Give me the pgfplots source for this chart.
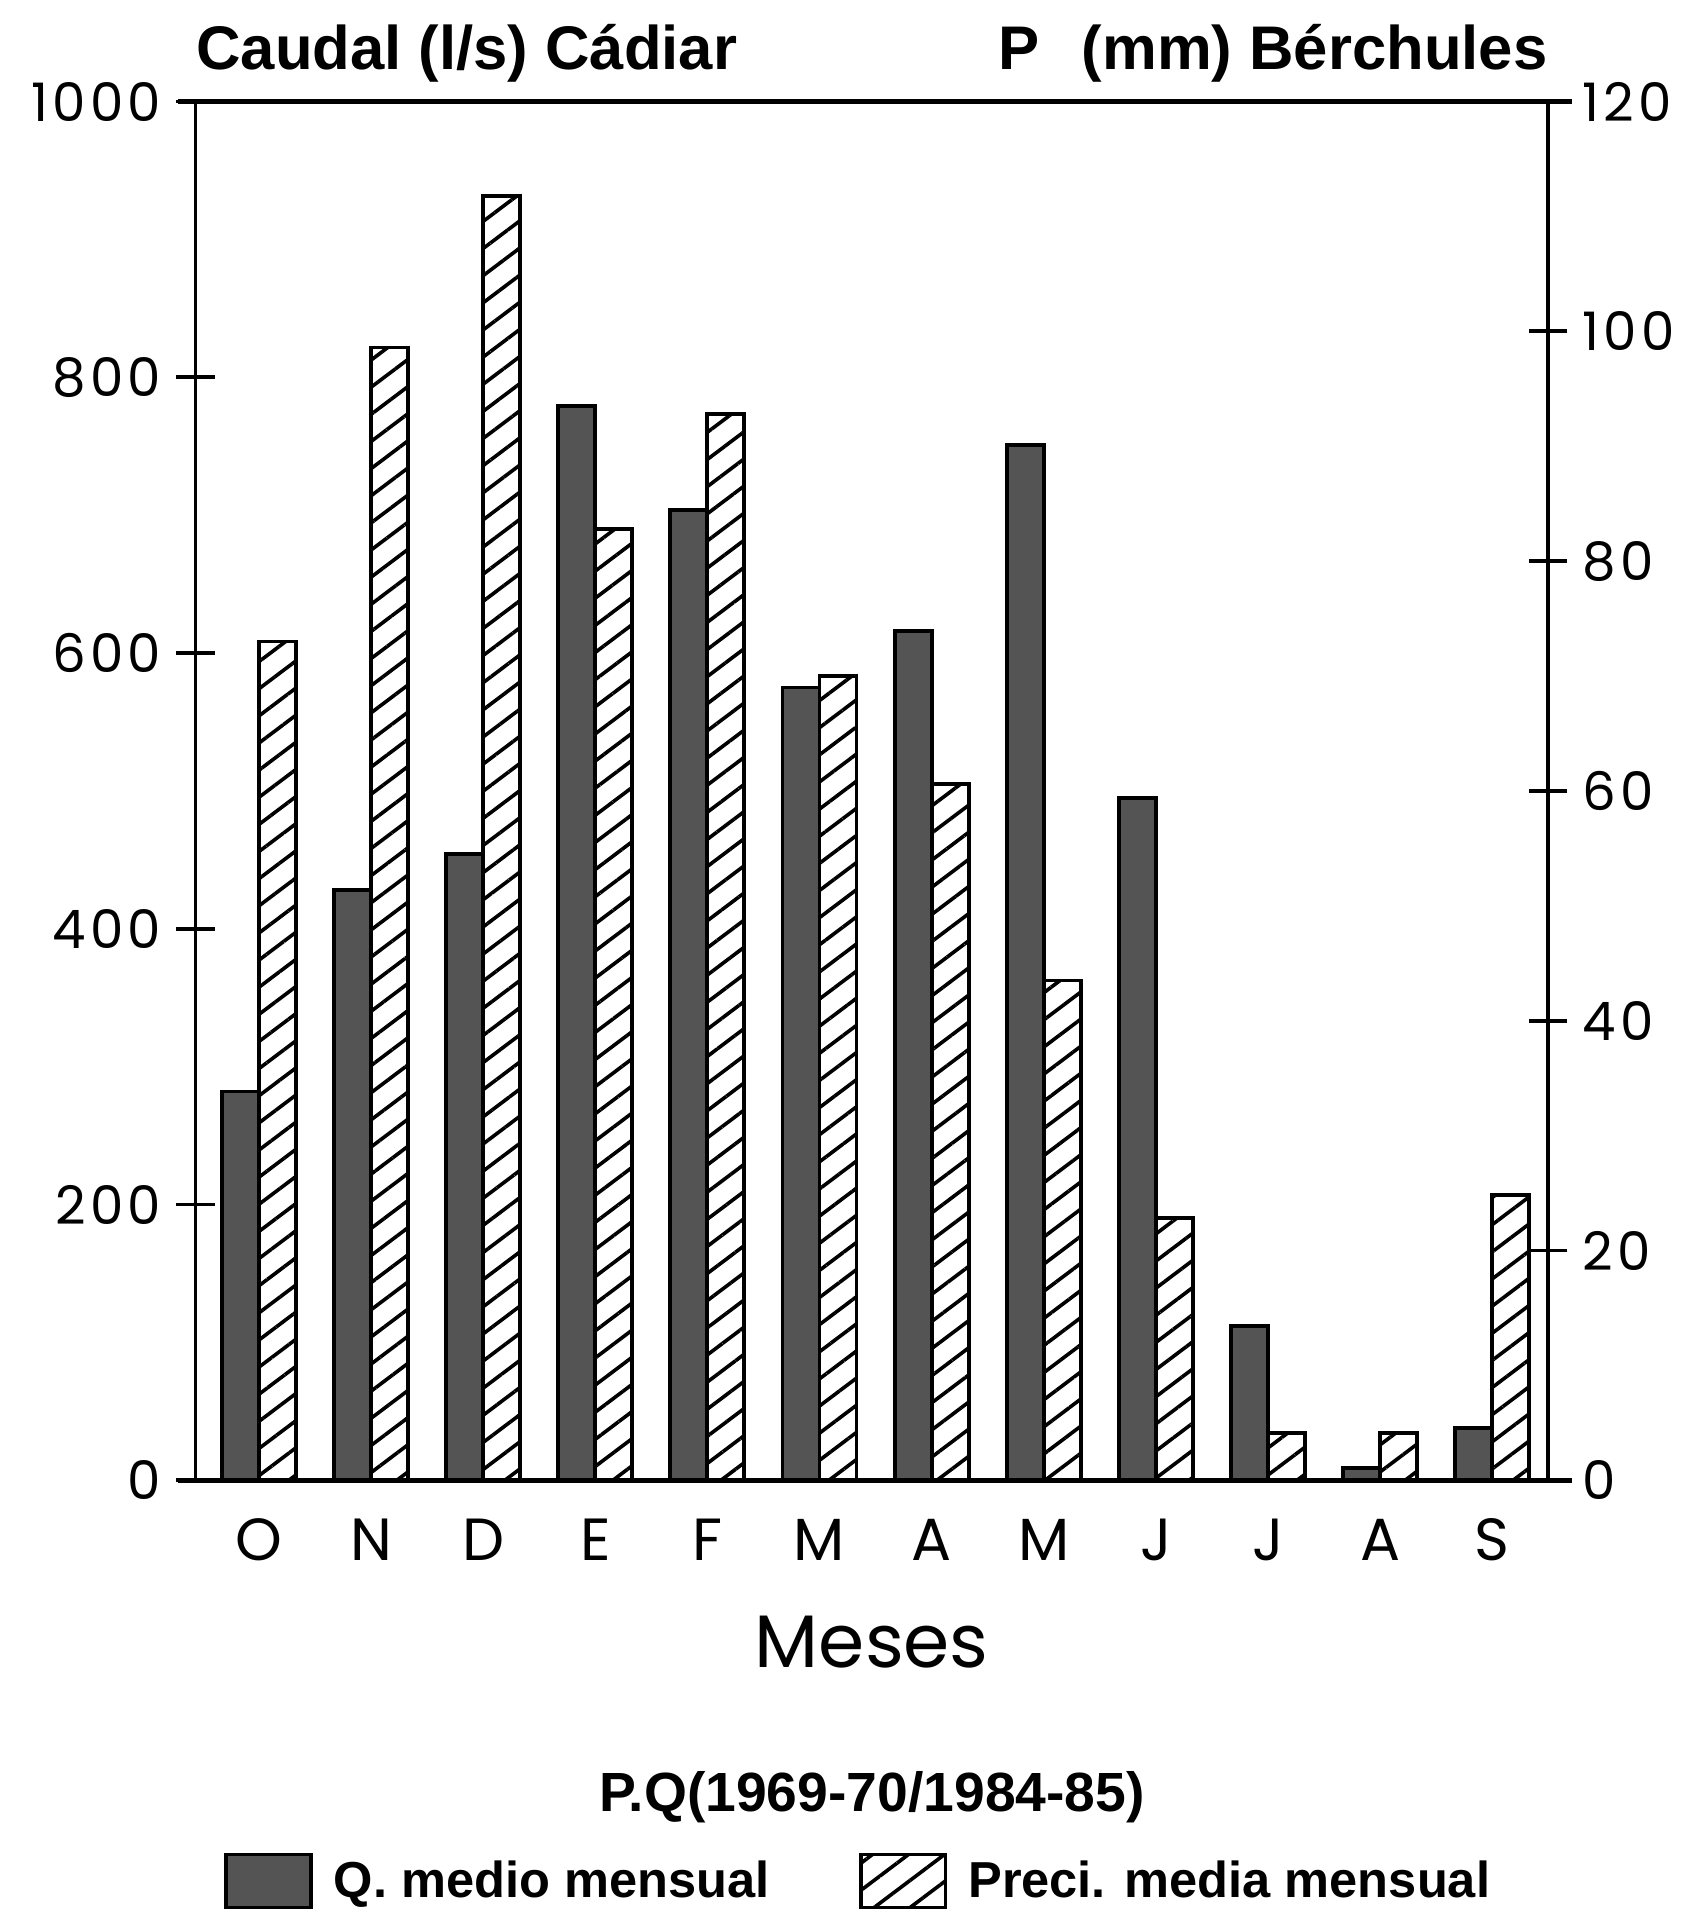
\documentclass[border=0pt]{standalone}
\usepackage{fontspec}
\setmainfont{Liberation Sans}
\newfontfamily\pop{Poppins}
\newfontfamily\popw{Poppins}[LetterSpace=8]
\usepackage{pgfplots}
\usepackage{pgfplotstable}
\pgfplotsset{compat=1.18}
\usetikzlibrary{patterns.meta}

\definecolor{qgray}{RGB}{84,84,84}

% mes, caudal medio (l/s, Cadiar), precipitacion media (mm, Berchules)
\pgfplotstableread{
idx Q   P
0   282 73.0
1   428 98.6
2   454 111.8
3   779 82.8
4   704 92.8
5   575 70.0
6   616 60.6
7   751 43.5
8   495 22.8
9   112 4.1
10  9   4.1
11  38  24.8
}\datos

\pgfplotsset{
  base/.style={
    width=318.4pt, height=324.5pt, scale only axis,
    xmin=-0.566, xmax=11.5, ymin=0,
    clip=false,
    tick align=center, major tick length=9pt,
    axis line style={-, line width=0.9pt},
    every tick/.style={black, line width=0.9pt},
    /pgf/number format/assume math mode=true,
    /pgf/number format/1000 sep={},
    yticklabel style={font=\popw\fontsize{12.5}{14}\selectfont},
  },
  hatch/.style={pattern={Lines[angle=37, distance=5.1pt, line width=0.85pt]}, pattern color=black},
}

\begin{document}
\begin{tikzpicture}
\begin{axis}[base, name=a1,
    ymax=1000, ytick={0,200,...,1000},
    axis y line*=left, axis x line*=bottom,
    xtick={0,...,11},
    xticklabels={O,N,D,E,F,M,A,M,J,J,A,S},
    x tick style={draw=none},
    xticklabel style={font=\pop\fontsize{14}{16}\selectfont, anchor=base, yshift=-14.3pt},
    xlabel={Meses},
    xlabel style={at={(axis description cs:0.5,0)}, anchor=base, yshift=-44pt,
                  font=\pop\fontsize{17.5}{20}\selectfont},
    ylabel={Caudal (l/s) Cádiar},
    ylabel style={rotate=-90, at={(axis description cs:0,1)}, anchor=base west,
                  inner sep=0pt, yshift=7.5pt, font=\bfseries\fontsize{14.5}{16}\selectfont},
  ]
  \addplot[ybar, bar width=0.33, bar shift=-0.165, fill=qgray, draw=black, line width=0.9pt]
    table[x=idx, y=Q] {\datos};
  \draw[line width=1.3pt] ([xshift=-4pt]rel axis cs:0,0) -- ([xshift=5.5pt]rel axis cs:1,0);
\end{axis}

\begin{axis}[base,
    ymax=120, ytick={0,20,...,120},
    axis y line*=right, axis x line=none,
    ylabel={P\hspace{10pt}(mm) Bérchules},
    ylabel style={rotate=-90, at={(axis description cs:1,1)}, anchor=base east,
                  inner sep=0pt, yshift=7.5pt, font=\bfseries\fontsize{14.5}{16}\selectfont},
    title={P.Q(1969-70/1984-85)},
    title style={at={(axis description cs:0.5,0)}, anchor=base, yshift=-84pt,
                 font=\bfseries\fontsize{13}{15}\selectfont},
    legend columns=2,
    legend image code/.code={\draw[#1] (0pt,-6pt) rectangle (20pt,6.5pt);},
    legend style={at={(axis description cs:0,0)}, anchor=west,
                  xshift=6.6pt, yshift=-94.3pt, draw=none, fill=none, inner sep=0pt,
                  font=\bfseries\fontsize{11.9}{13}\selectfont,
                  nodes={inner sep=0pt},
                  /tikz/every odd column/.append style={column sep=4.9pt},
                  /tikz/every even column/.append style={column sep=21pt}},
  ]
  \addlegendimage{fill=qgray, draw=black, line width=0.9pt}
  \addlegendentry{Q. medio mensual}
  \addlegendimage{hatch, draw=black, line width=0.9pt}
  \addlegendentry{Preci. media mensual}
  \addplot[forget plot, ybar, bar width=0.33, bar shift=0.165, hatch, draw=black, line width=0.9pt]
    table[x=idx, y=P] {\datos};
  \draw[line width=1.3pt] ([xshift=-4pt]rel axis cs:0,1) -- ([xshift=5.5pt]rel axis cs:1,1);
\end{axis}

\pgfresetboundingbox
\path ([shift={(-46pt,-102.3pt)}]a1.south west) rectangle ([shift={(35.4pt,23.9pt)}]a1.north east);
\end{tikzpicture}
\end{document}
